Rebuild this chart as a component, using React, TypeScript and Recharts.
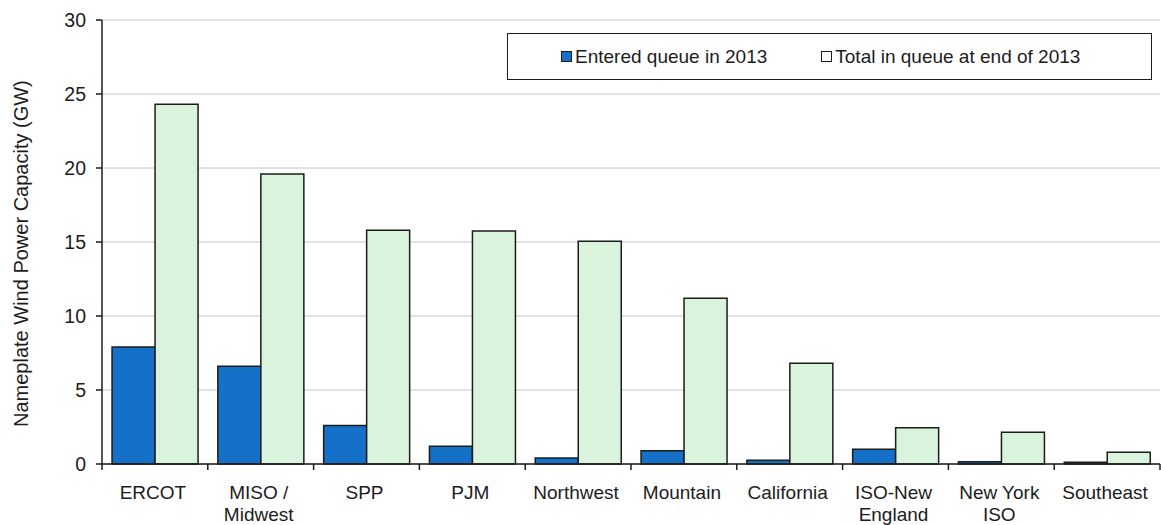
import React from 'react';
import { BarChart, Bar, XAxis, YAxis, CartesianGrid, Legend } from 'recharts';

const regions = ['ERCOT', 'MISO /\nMidwest', 'SPP', 'PJM', 'Northwest', 'Mountain', 'California', 'ISO-New\nEngland', 'New York\nISO', 'Southeast'];
const enteredQueue = [7.9, 6.6, 2.6, 1.2, 0.4, 0.9, 0.25, 1.0, 0.15, 0.12];
const totalQueue = [24.3, 19.6, 15.8, 15.75, 15.05, 11.2, 6.8, 2.45, 2.15, 0.8];
const yTicks = [0, 5, 10, 15, 20, 25, 30];

const BLUE = '#1570c8';
const GREEN = '#daf3dc';
const INK = '#1c1c1c';
const FONT = '"Liberation Sans", Arial, sans-serif';

const data = regions.map((name, i) => ({ name, entered: enteredQueue[i], total: totalQueue[i] }));

// label plus a small tick mark on the left edge of each category band (Excel style)
const CategoryTick = (props: any) => {
    const { x, y, payload } = props;
    const lines = String(payload.value).split('\n');
    const half = payload.offset || 0;
    const axisY = y - 8;
    return (
        <g>
            <line x1={x - half} x2={x - half} y1={axisY} y2={axisY + 6} stroke={INK} strokeWidth={1.5} />
            {payload.index === regions.length - 1 && (
                <line x1={x + half} x2={x + half} y1={axisY} y2={axisY + 6} stroke={INK} strokeWidth={1.5} />
            )}
            <text x={x - 2} y={y + 27} textAnchor="middle" fontSize={19} fill={INK} fontFamily={FONT}>
                {lines.map((l, i) => (
                    <tspan key={i} x={x - 2} dy={i === 0 ? 0 : 22}>{l}</tspan>
                ))}
            </text>
        </g>
    );
};

const Swatch = ({ color }: { color: string }) => (
    <span style={{ width: 11, height: 11, boxSizing: 'border-box', background: color, border: `1.5px solid ${INK}`, marginRight: 3 }} />
);

const LegendBox = () => (
    <div style={{
        width: 645, height: 47, boxSizing: 'border-box', border: `1.5px solid ${INK}`, background: '#fff',
        display: 'flex', alignItems: 'center', gap: 54, paddingLeft: 53,
        fontFamily: FONT, fontSize: 19, color: INK,
    }}>
        <span style={{ display: 'flex', alignItems: 'center' }}>
            <Swatch color={BLUE} />
            Entered queue in 2013
        </span>
        <span style={{ display: 'flex', alignItems: 'center' }}>
            <Swatch color="#fff" />
            Total in queue at end of 2013
        </span>
    </div>
);

export default function App() {
    return (
        <div style={{ position: 'absolute', left: 0, top: 0, background: '#fff' }}>
            <BarChart
                width={1161}
                height={525}
                data={data}
                margin={{ top: 20, right: 1, left: 0, bottom: 0 }}
                barCategoryGap="9.5%"
                barGap={0}
            >
                <CartesianGrid vertical={false} stroke="#c4c4c4" strokeWidth={1} />
                <XAxis
                    dataKey="name"
                    interval={0}
                    height={61}
                    axisLine={{ stroke: INK, strokeWidth: 1.5 }}
                    tickLine={false}
                    tick={<CategoryTick />}
                />
                <YAxis
                    domain={[0, 30]}
                    ticks={yTicks}
                    width={102}
                    axisLine={{ stroke: INK, strokeWidth: 1.5 }}
                    tickLine={{ stroke: INK, strokeWidth: 1.5 }}
                    tickSize={6}
                    tick={{ fontSize: 19.5, fill: INK, fontFamily: FONT, dx: -8 }}
                    label={{
                        value: 'Nameplate Wind Power Capacity (GW)',
                        angle: -90,
                        position: 'insideLeft',
                        dx: 16,
                        dy: 185,
                        style: { fontSize: 20, fill: INK, fontFamily: FONT },
                    }}
                />
                <Legend
                    verticalAlign="middle"
                    content={<LegendBox />}
                    wrapperStyle={{ position: 'absolute', top: 33, left: 507, width: 645 }}
                />
                <Bar dataKey="entered" name="Entered queue in 2013" fill={BLUE} stroke={INK} strokeWidth={1.5} isAnimationActive={false} />
                <Bar dataKey="total" name="Total in queue at end of 2013" fill={GREEN} stroke={INK} strokeWidth={1.5} isAnimationActive={false} />
            </BarChart>
        </div>
    );
}
